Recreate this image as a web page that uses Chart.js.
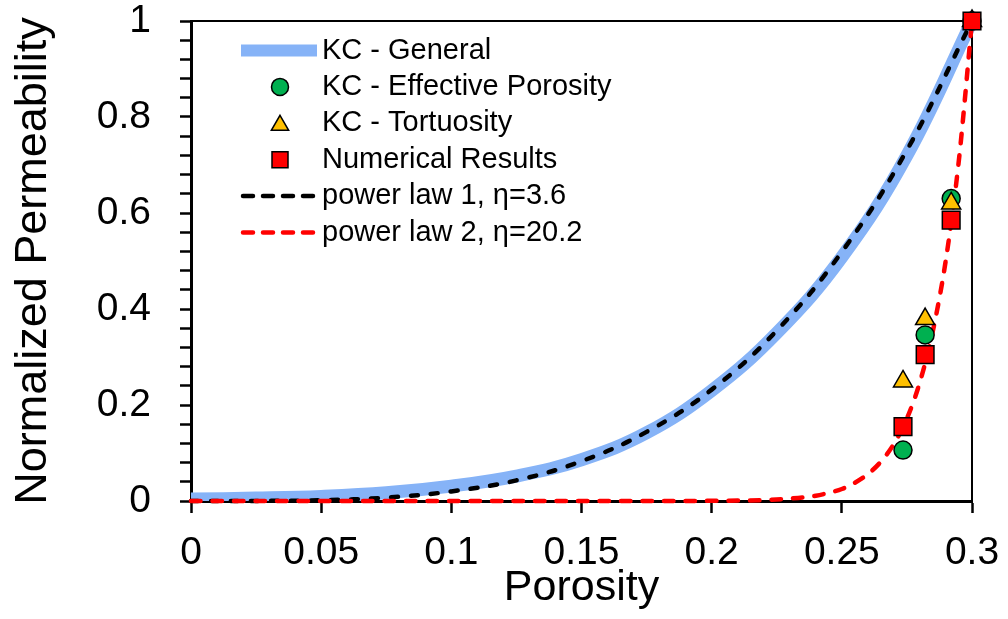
<!DOCTYPE html>
<html>
<head>
<meta charset="utf-8">
<script src="https://cdn.jsdelivr.net/npm/chart.js@4.4.0/dist/chart.umd.min.js"></script>
<style>
  html, body { margin: 0; padding: 0; background: #fff; }
  #wrap { width: 1008px; height: 619px; }
</style>
</head>
<body>
<div id="wrap"><canvas id="permChart" width="1008" height="619"></canvas></div>
<script>
// values
const curvePorosity = [0, 0.025, 0.05, 0.075, 0.1, 0.125, 0.15, 0.175, 0.2, 0.225, 0.25, 0.275, 0.3];
const kcGeneral = [0.004, 0.006, 0.0095, 0.017, 0.031, 0.052, 0.086, 0.142, 0.23, 0.35, 0.508, 0.72, 1.0];
const powerLaw1 = [0, 0.0002, 0.0016, 0.007, 0.02, 0.043, 0.083, 0.144, 0.232, 0.355, 0.519, 0.731, 1.0];

const redPorosity = [0, 0.05, 0.1, 0.15, 0.2, 0.21, 0.22, 0.23, 0.24, 0.245, 0.25, 0.255, 0.26, 0.265, 0.27, 0.275, 0.28, 0.285, 0.29, 0.295, 0.3];
const powerLaw2 = [0, 0, 0, 0, 0.0003, 0.0008, 0.002, 0.005, 0.011, 0.017, 0.025, 0.038, 0.056, 0.082, 0.119, 0.172, 0.248, 0.355, 0.504, 0.712, 1.0];

const pointPorosity = [0.2735, 0.282, 0.292, 0.3];
const kcEffective = [0.106, 0.346, 0.63, 1.0];
const kcTortuosity = [0.249, 0.379, 0.62, 1.0];
const numerical = [0.155, 0.305, 0.585, 1.0];

const xTicks = [0, 0.05, 0.1, 0.15, 0.2, 0.25, 0.3];
const xTickLabels = ['0', '0.05', '0.1', '0.15', '0.2', '0.25', '0.3'];
const yTicks = [0, 0.2, 0.4, 0.6, 0.8, 1];
const yTickLabels = ['0', '0.2', '0.4', '0.6', '0.8', '1'];
const yMinorStep = 0.04;

const FONT = '"Liberation Sans", Arial, sans-serif';

const pts = (xs, ys) => xs.map((x, i) => ({ x: x, y: ys[i] }));

// box lines on top and right of the plot
const frame = {
    id: 'frame',
    beforeDatasetsDraw(chart) {
        const { ctx, chartArea: a } = chart;
        ctx.save();
        ctx.strokeStyle = '#000';
        ctx.lineWidth = 2;
        ctx.beginPath();
        ctx.moveTo(a.left, a.top);
        ctx.lineTo(a.right, a.top);
        ctx.lineTo(a.right, a.bottom);
        ctx.stroke();
        ctx.restore();
    }
};

function marker(ctx, style, x, y, r, fill) {
    ctx.beginPath();
    if (style === 'circle') {
        ctx.arc(x, y, r, 0, Math.PI * 2);
    } else if (style === 'triangle') {
        ctx.moveTo(x, y - r);
        ctx.lineTo(x + r * 0.866, y + r * 0.5);
        ctx.lineTo(x - r * 0.866, y + r * 0.5);
        ctx.closePath();
    } else {
        ctx.rect(x - r, y - r, 2 * r, 2 * r);
    }
    ctx.fillStyle = fill;
    ctx.fill();
    ctx.lineWidth = 1.5;
    ctx.strokeStyle = '#000';
    ctx.stroke();
}

// legend drawn inside the plot area
const insideLegend = {
    id: 'insideLegend',
    afterDraw(chart) {
        const ctx = chart.ctx;
        ctx.save();
        ctx.font = '29px ' + FONT;
        ctx.textBaseline = 'middle';
        chart.data.datasets.forEach((ds, i) => {
            const y = 50.5 + i * 36.4;
            if (ds.showLine) {
                ctx.beginPath();
                ctx.strokeStyle = ds.borderColor;
                ctx.lineWidth = ds.legendWidth;
                ctx.lineCap = ds.borderDash ? 'round' : 'butt';
                ctx.setLineDash(ds.borderDash ? [10, 10] : []);
                ctx.moveTo(ds.borderDash ? 243 : 241, y);
                ctx.lineTo(ds.borderDash ? 315 : 317, y);
                ctx.stroke();
                ctx.setLineDash([]);
            } else {
                const r = ds.pointStyle === 'circle' ? 8.5 : ds.pointStyle === 'triangle' ? 10 : 8;
                marker(ctx, ds.pointStyle, 280, ds.pointStyle === 'triangle' ? y + 2 : y, r, ds.backgroundColor);
            }
            ctx.fillStyle = '#000';
            ctx.fillText(ds.label, 322, y);
        });
        ctx.restore();
    }
};

const ctx = document.getElementById('permChart').getContext('2d');
new Chart(ctx, {
    type: 'scatter',
    data: {
        datasets: [
            {
                label: 'KC - General',
                data: pts(curvePorosity, kcGeneral),
                showLine: true,
                borderColor: '#86B3F7',
                borderWidth: 13,
                legendWidth: 12,
                pointRadius: 0,
                tension: 0.4,
                clip: { left: 8, top: 8, right: 8, bottom: 0 },
                order: 6
            },
            {
                label: 'KC - Effective Porosity',
                data: pts(pointPorosity, kcEffective),
                pointStyle: 'circle',
                pointRadius: 9,
                backgroundColor: '#00B050',
                borderColor: '#000',
                borderWidth: 1.5,
                clip: false,
                order: 3
            },
            {
                label: 'KC - Tortuosity',
                data: pts(pointPorosity, kcTortuosity),
                pointStyle: 'triangle',
                pointRadius: 11,
                backgroundColor: '#FFC000',
                borderColor: '#000',
                borderWidth: 1.5,
                clip: false,
                order: 2
            },
            {
                label: 'Numerical Results',
                data: pts(pointPorosity, numerical),
                pointStyle: 'rect',
                pointRadius: 12.5,
                backgroundColor: '#FF0000',
                borderColor: '#000',
                borderWidth: 1.5,
                clip: false,
                order: 1
            },
            {
                label: 'power law 1, η=3.6',
                data: pts(curvePorosity, powerLaw1),
                showLine: true,
                borderColor: '#000000',
                borderWidth: 4.5,
                legendWidth: 4.5,
                borderDash: [7, 13],
                borderCapStyle: 'round',
                pointRadius: 0,
                tension: 0.4,
                clip: false,
                order: 5
            },
            {
                label: 'power law 2, η=20.2',
                data: pts(redPorosity, powerLaw2),
                showLine: true,
                borderColor: '#FF0000',
                borderWidth: 4.5,
                legendWidth: 4.5,
                borderDash: [9.5, 12],
                borderCapStyle: 'round',
                pointRadius: 0,
                cubicInterpolationMode: 'monotone',
                clip: false,
                order: 4
            }
        ]
    },
    options: {
        responsive: false,
        animation: false,
        devicePixelRatio: 1,
        layout: { padding: { left: 0, top: 21, right: 36, bottom: 0 } },
        plugins: {
            legend: { display: false },
            tooltip: { enabled: false }
        },
        scales: {
            x: {
                type: 'linear',
                min: 0,
                max: 0.3,
                afterBuildTicks: s => { s.ticks = xTicks.map(v => ({ value: v })); },
                afterFit: s => { s.height = 118; s.paddingLeft = 0; s.paddingRight = 0; },
                ticks: {
                    callback: (v, i) => xTickLabels[i],
                    color: '#000',
                    font: { family: FONT, size: 39 },
                    padding: 17,
                    maxRotation: 0,
                    autoSkip: false
                },
                grid: { display: true, drawOnChartArea: false, tickLength: 12, tickWidth: 2.5, tickColor: '#000' },
                border: { display: true, color: '#000', width: 3 },
                title: {
                    display: true,
                    text: 'Porosity',
                    color: '#000',
                    font: { family: FONT, size: 43 },
                    padding: { top: 0, bottom: 5 }
                }
            },
            y: {
                type: 'linear',
                min: 0,
                max: 1,
                afterBuildTicks: s => {
                    const t = [];
                    for (let i = 0; i <= Math.round(1 / yMinorStep); i++) t.push({ value: i * yMinorStep });
                    s.ticks = t;
                },
                afterFit: s => { s.width = 191; s.paddingTop = 0; s.paddingBottom = 0; },
                ticks: {
                    callback: v => {
                        const k = yTicks.findIndex(m => Math.abs(m - v) < 1e-6);
                        return k >= 0 ? yTickLabels[k] : '';
                    },
                    color: '#000',
                    font: { family: FONT, size: 39 },
                    padding: 29,
                    autoSkip: false
                },
                grid: { display: true, drawOnChartArea: false, tickLength: 11, tickWidth: 2.5, tickColor: '#000' },
                border: { display: true, color: '#000', width: 3 },
                title: {
                    display: true,
                    text: 'Normalized Permeability',
                    color: '#000',
                    font: { family: FONT, size: 45 },
                    padding: { top: 7, bottom: 0 }
                }
            }
        }
    },
    plugins: [frame, insideLegend]
});
</script>
</body>
</html>
